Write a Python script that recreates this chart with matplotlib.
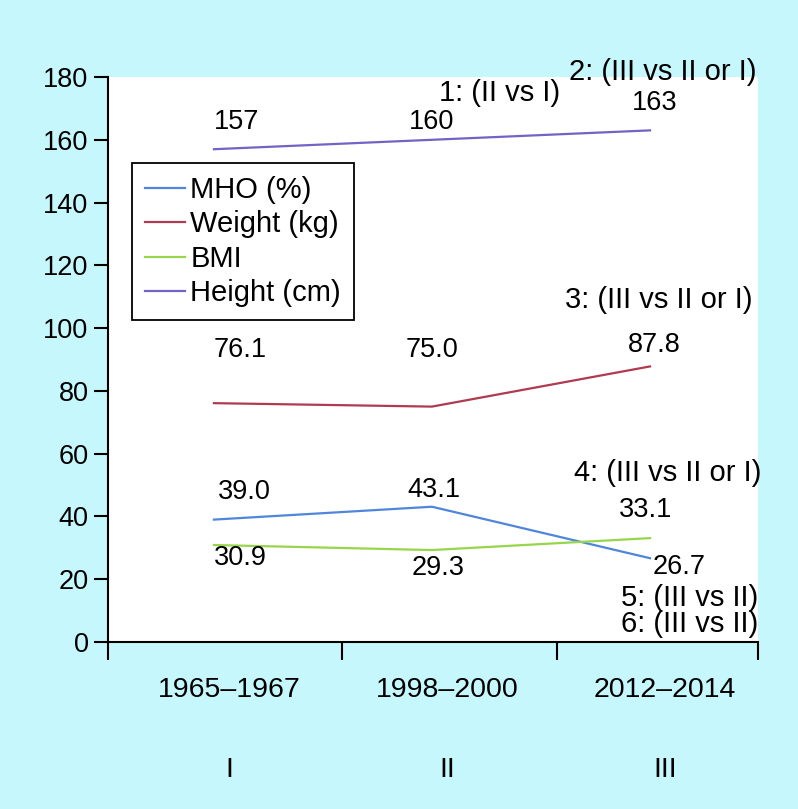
import matplotlib
matplotlib.use("Agg")
import matplotlib.pyplot as plt
import matplotlib.transforms as mtransforms

plt.rcParams['font.family'] = ['Liberation Sans', 'DejaVu Sans']

# Data
periods = ['1965\u20131967', '1998\u20132000', '2012\u20132014']
phases = ['I', 'II', 'III']
mho = [39.0, 43.1, 26.7]
weight = [76.1, 75.0, 87.8]
bmi = [30.9, 29.3, 33.1]
height = [157, 160, 163]

series_names = ['MHO (%)', 'Weight (kg)', 'BMI', 'Height (cm)']
colors = ['#4F86DC', '#B03A50', '#97D64C', '#7264C6']

bg = '#C6F7FC'
fs = 19.5     # tick labels / values
fs_note = 21  # notes and legend

fig = plt.figure(figsize=(7.98, 8.09), dpi=100, facecolor=bg)
ax = fig.add_axes([0.1353, 0.2064, 0.8145, 0.6984])
ax.set_facecolor('white')

x = [0, 1, 2]
for vals, name, c in zip([mho, weight, bmi, height], series_names, colors):
    ax.plot(x, vals, color=c, lw=1.6, label=name)

ax.set_xlim(-0.486, 2.495)
ax.set_ylim(0, 180)

# y axis
ax.set_yticks(range(0, 181, 20))
ax.tick_params(axis='y', length=10, width=1.5, labelsize=fs, pad=4)

# x axis: boundary ticks only, labels placed as text
ax.set_xticks([-0.486, 0.587, 1.573, 2.495])
ax.set_xticklabels([])
ax.tick_params(axis='x', length=13, width=1.5)

for s in ['top', 'right']:
    ax.spines[s].set_visible(False)
for s in ['left', 'bottom']:
    ax.spines[s].set_linewidth(1.5)

trans = mtransforms.blended_transform_factory(ax.transData, ax.transAxes)
for i, (p, r) in enumerate(zip(periods, phases)):
    ax.text(i + 0.07, -0.085, p, transform=trans, ha='center', va='center', fontsize=20.5)
    ax.text(i + 0.07, -0.227, r, transform=trans, ha='center', va='center', fontsize=20.5)

# value labels
ax.text(0.0, 165.7, f'{height[0]}', ha='left', va='center', fontsize=fs)
ax.text(1.0, 165.7, f'{height[1]}', ha='center', va='center', fontsize=fs)
ax.text(2.02, 171.7, f'{height[2]}', ha='center', va='center', fontsize=fs)
ax.text(0.0, 93.0, f'{weight[0]:.1f}', ha='left', va='center', fontsize=fs)
ax.text(1.0, 93.0, f'{weight[1]:.1f}', ha='center', va='center', fontsize=fs)
ax.text(2.02, 94.6, f'{weight[2]:.1f}', ha='center', va='center', fontsize=fs)
ax.text(0.02, 47.8, f'{mho[0]:.1f}', ha='left', va='center', fontsize=fs)
ax.text(1.01, 48.4, f'{mho[1]:.1f}', ha='center', va='center', fontsize=fs)
ax.text(2.01, 23.8, f'{mho[2]:.1f}', ha='left', va='center', fontsize=fs)
ax.text(0.0, 26.8, f'{bmi[0]:.1f}', ha='left', va='center', fontsize=fs)
ax.text(1.03, 23.6, f'{bmi[1]:.1f}', ha='center', va='center', fontsize=fs)
ax.text(1.98, 42.0, f'{bmi[2]:.1f}', ha='center', va='center', fontsize=fs)

# significance notes
ax.text(1.03, 174.9, '1: (II vs I)', ha='left', va='center', fontsize=fs_note)
ax.text(2.49, 181.6, '2: (III vs II or I)', ha='right', va='center', fontsize=fs_note, clip_on=False)
ax.text(2.47, 109.0, '3: (III vs II or I)', ha='right', va='center', fontsize=fs_note)
ax.text(2.51, 53.8, '4: (III vs II or I)', ha='right', va='center', fontsize=fs_note)
ax.text(2.495, 14.0, '5: (III vs II)', ha='right', va='center', fontsize=fs_note)
ax.text(2.495, 5.9, '6: (III vs II)', ha='right', va='center', fontsize=fs_note)

leg = ax.legend(loc='upper left', bbox_to_anchor=(0.037, 0.848), fontsize=fs_note,
                frameon=True, fancybox=False, edgecolor='black', framealpha=1,
                handlelength=1.35, handletextpad=0.2, labelspacing=0.22,
                borderpad=0.45, borderaxespad=0)
leg.get_frame().set_linewidth(1.3)

fig.savefig('out.png', dpi=100, facecolor=bg)
